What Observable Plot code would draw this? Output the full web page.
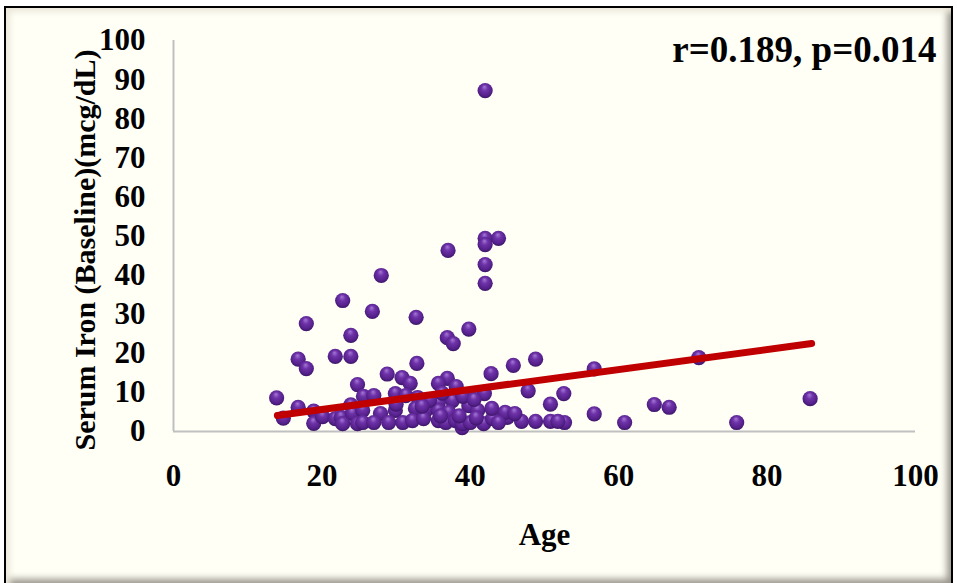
<!DOCTYPE html>
<html>
<head>
<meta charset="utf-8">
<script src="https://cdn.jsdelivr.net/npm/d3@7"></script>
<script src="https://cdn.jsdelivr.net/npm/@observablehq/plot@0.6"></script>
<style>
  html, body { margin: 0; padding: 0; background: #ffffff; width: 957px; height: 583px; overflow: hidden; }
  #frame {
    position: absolute; left: 4px; top: 6px; width: 949px; height: 579px;
    border: 2px solid #000; border-bottom: none; box-sizing: border-box;
    background: #FFFFF6;
    box-shadow: inset 7px 7px 6px -3px #ECE8DA, inset -7px -9px 7px -3px #9a968c;
  }
  #chart { position: absolute; left: 0; top: 0; }
</style>
</head>
<body>
<div id="frame"></div>
<div id="chart"></div>
<script>
// ---- data ----
const age = [
  42, 42, 42, 43.8, 37, 42, 42, 28, 22.8, 26.8,
  32.7, 17.9, 39.8, 36.9, 37.7, 23.9, 16.8, 17.9, 21.8, 23.9,
  32.8, 48.8, 45.8, 56.7, 70.8, 42.8, 28.8, 30.8, 36.9, 24.8,
  31.9, 35.7, 38.1, 41.9, 47.8, 52.6, 50.8, 56.7, 60.8, 64.8,
  66.8, 75.9, 85.8, 52.7, 13.9, 14.8, 16.8, 18.9, 18.9, 20.1,
  21.8, 22.6, 23.9, 24.1, 22.8, 24.8, 25.5, 25.6, 27.0, 29.9,
  31.3, 32.9, 35.7, 37.6, 27.9, 29.9, 32.6, 34.0, 35.7, 37.1,
  25.5, 27.0, 29.0, 30.9, 32.2, 33.7, 35.7, 36.7, 38.0, 38.9,
  38.9, 40.0, 41.8, 43.0, 45.0, 46.9, 48.8, 50.8, 51.8, 39.8,
  41.0, 42.9, 44.7, 46.0, 34.5, 36.2, 39.0, 40.5, 38.5, 36.0,
  40.8, 43.8, 30.0, 33.5
];
const iron = [
  87.2, 49.4, 47.8, 49.4, 46.3, 42.7, 37.9, 39.9, 33.5, 30.7,
  29.2, 27.6, 26.2, 24.0, 22.5, 24.6, 18.5, 16.1, 19.2, 19.2,
  17.4, 18.5, 16.9, 16.0, 18.9, 14.8, 14.7, 13.8, 13.6, 12.0,
  12.3, 12.3, 11.5, 9.7, 10.4, 9.7, 7.0, 4.5, 2.3, 6.9,
  6.2, 2.3, 8.4, 2.3, 8.6, 3.4, 6.2, 5.2, 2.1, 3.8,
  3.3, 3.6, 6.8, 4.6, 2.0, 2.0, 5.4, 9.0, 9.2, 9.7,
  9.2, 8.7, 7.4, 7.9, 4.6, 5.4, 5.9, 5.4, 5.4, 4.9,
  2.3, 2.3, 2.3, 2.3, 2.8, 3.3, 2.8, 2.3, 2.8, 1.0,
  2.0, 2.3, 2.0, 3.3, 3.6, 2.6, 2.6, 2.6, 2.6, 6.6,
  5.4, 5.9, 4.9, 4.6, 8.0, 9.8, 9.0, 8.2, 4.0, 4.0,
  3.5, 2.3, 7.0, 6.5
];
const trendAge = [14, 86];
const trendIron = [4.1, 22.5];
const xTicks = [0, 20, 40, 60, 80, 100];
const yTicks = [0, 10, 20, 30, 40, 50, 60, 70, 80, 90, 100];
const xLabel = "Age";
const yLabel = "Serum Iron (Baseline)(mcg/dL)";
const note = "r=0.189, p=0.014";

const points = age.map((a, i) => ({age: a, iron: iron[i]}));
const trend = trendAge.map((a, i) => ({age: a, iron: trendIron[i]}));

const font = "'Liberation Serif', 'Times New Roman', serif";

const chart = Plot.plot({
  width: 957,
  height: 583,
  marginLeft: 173,
  marginRight: 42,
  marginTop: 40,
  marginBottom: 152,
  style: {background: "transparent", fontFamily: font, fontWeight: "bold", fontSize: "31px", color: "#000", overflow: "visible"},
  x: {domain: [0, 100]},
  y: {domain: [0, 100]},
  marks: [
    Plot.axisX({ticks: xTicks, tickSize: 0, tickPadding: 32, label: null, fontSize: 31, fontWeight: "bold", fill: "#000"}),
    Plot.axisY({ticks: yTicks, tickSize: 0, tickPadding: 28, label: null, fontSize: 31, fontWeight: "bold", fill: "#000"}),
    Plot.ruleX([0], {stroke: "#C0C0C0", strokeWidth: 2}),
    Plot.ruleY([0], {stroke: "#C0C0C0", strokeWidth: 2}),
    Plot.dot(points, {x: "age", y: "iron", r: 7.6, fill: "url(#ball)"}),
    Plot.line(trend, {x: "age", y: "iron", stroke: "#C00000", strokeWidth: 7, strokeLinecap: "round"}),
    Plot.text([note], {frameAnchor: "top-right", text: d => d, textAnchor: "end", lineAnchor: "middle", dx: 21, dy: 10, fontSize: 37, fontWeight: "bold", fontFamily: font, fill: "#000"}),
    Plot.text([xLabel], {frameAnchor: "bottom", text: d => d, lineAnchor: "middle", dy: 104, fontSize: 31, fontWeight: "bold", fontFamily: font, fill: "#000"}),
    Plot.text([yLabel], {frameAnchor: "left", text: d => d, rotate: -90, textAnchor: "middle", lineAnchor: "middle", dx: -88, dy: 14, fontSize: 30, fontWeight: "bold", fontFamily: font, fill: "#000"})
  ]
});

// sphere-like radial gradient for the markers
const defs = d3.select(chart).insert("defs", ":first-child");
const g = defs.append("radialGradient").attr("id", "ball")
  .attr("cx", "50%").attr("cy", "45%").attr("r", "60%")
  .attr("fx", "45%").attr("fy", "25%");
g.append("stop").attr("offset", "0%").attr("stop-color", "#A478D6");
g.append("stop").attr("offset", "35%").attr("stop-color", "#6E32A8");
g.append("stop").attr("offset", "75%").attr("stop-color", "#54208A");
g.append("stop").attr("offset", "100%").attr("stop-color", "#33105A");

document.getElementById("chart").appendChild(chart);
</script>
</body>
</html>
